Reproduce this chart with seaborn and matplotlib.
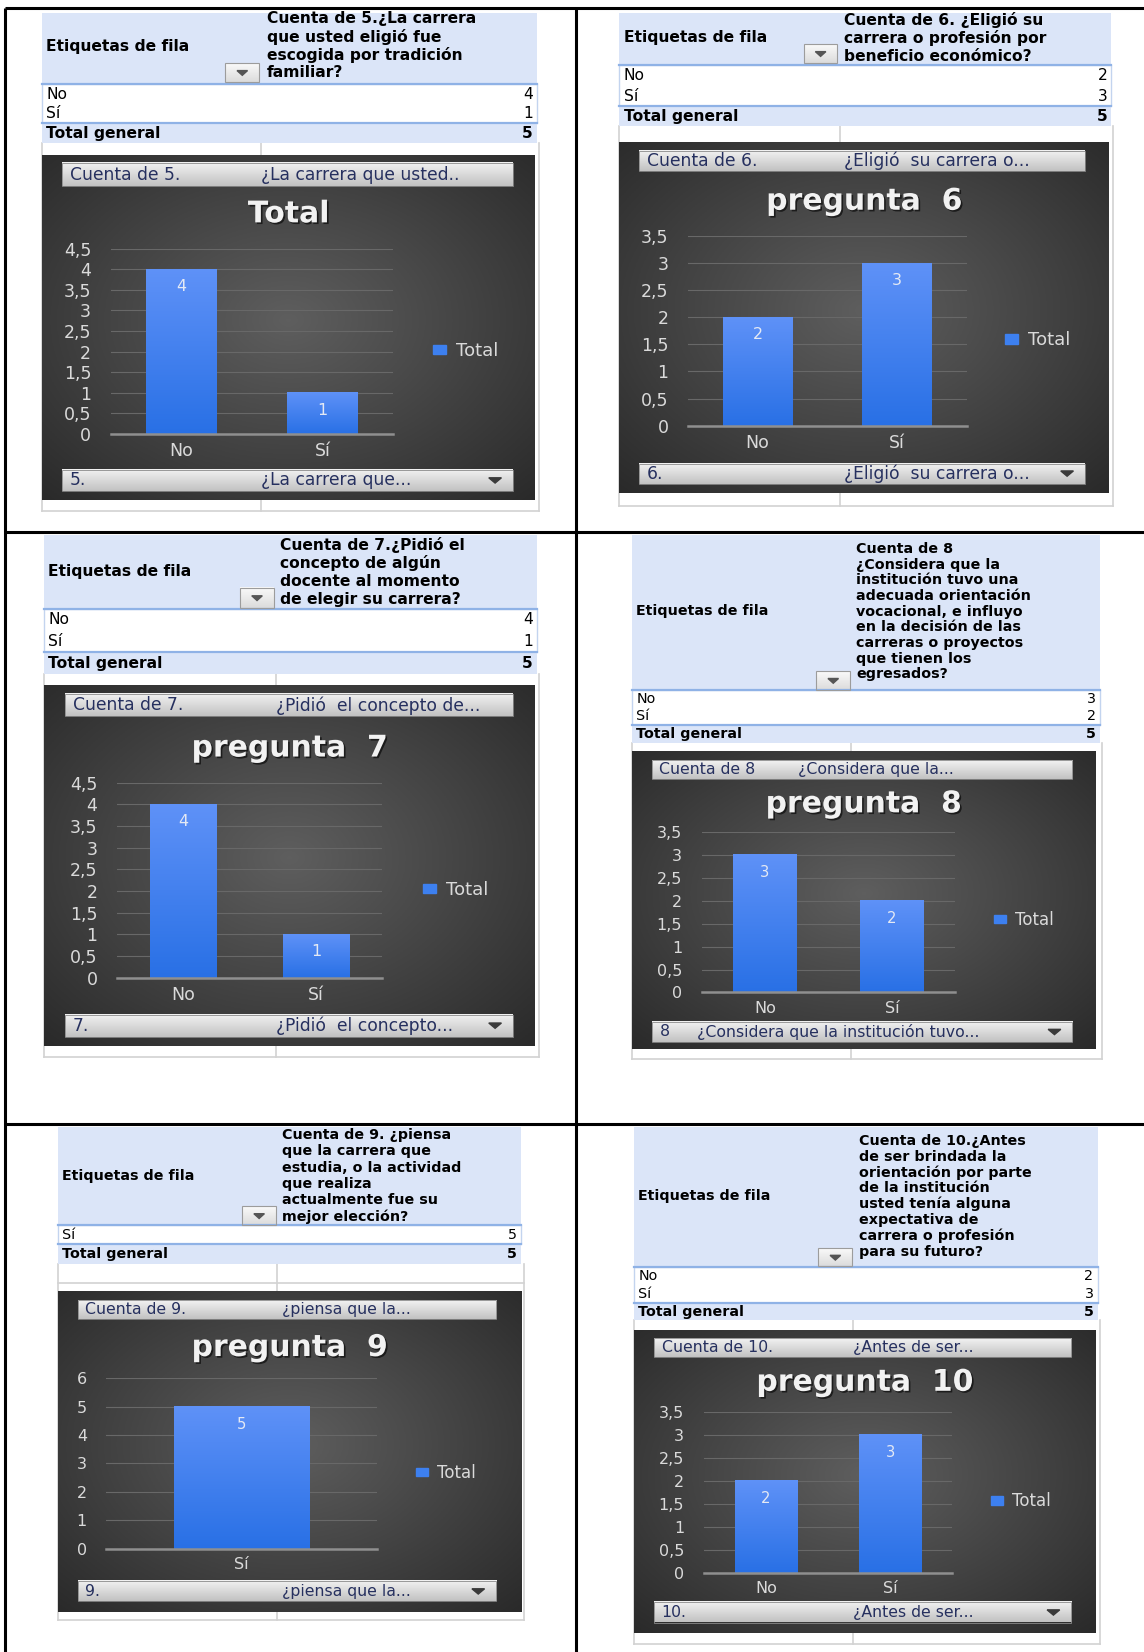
#!/usr/bin/env python3
"""
Pivot-table bar charts (preguntas 5 a 10) laid out as a 2x3 page grid.
"""

import numpy as np
import pandas as pd
import matplotlib
matplotlib.use("Agg")
import matplotlib.pyplot as plt
import matplotlib.patches as mpatches
import matplotlib.patheffects as pe
from matplotlib.ticker import FuncFormatter
import seaborn as sns

QUESTION_IDS = ["5", "6", "7", "8", "9", "10"]

HEADER_LINES = [
    ["Cuenta de 5.¿La carrera", "que usted eligió fue", "escogida por tradición", "familiar?"],
    ["Cuenta de 6. ¿Eligió su", "carrera o profesión por", "beneficio económico?"],
    ["Cuenta de 7.¿Pidió el", "concepto de algún", "docente al momento", "de elegir su carrera?"],
    ["Cuenta de 8", "¿Considera que la", "institución tuvo una", "adecuada orientación",
     "vocacional, e influyo", "en la decisión de las", "carreras o proyectos",
     "que tienen los", "egresados?"],
    ["Cuenta de 9. ¿piensa", "que la carrera que", "estudia, o la actividad",
     "que realiza", "actualmente fue su", "mejor elección?"],
    ["Cuenta de 10.¿Antes", "de ser brindada la", "orientación por parte",
     "de la institución", "usted tenía alguna", "expectativa de",
     "carrera o profesión", "para su futuro?"],
]

CATEGORIES = [["No", "Sí"], ["No", "Sí"], ["No", "Sí"], ["No", "Sí"], ["Sí"], ["No", "Sí"]]
COUNTS = [[4, 1], [2, 3], [4, 1], [3, 2], [5], [2, 3]]

CHART_TITLES = ["Total", "pregunta  6", "pregunta  7", "pregunta  8", "pregunta  9", "pregunta  10"]
Y_MAX = [4.5, 3.5, 4.5, 3.5, 6, 3.5]
Y_STEP = [0.5, 0.5, 0.5, 0.5, 1, 0.5]

TOP_BUTTONS = [
    ("Cuenta de 5.", "¿La carrera que usted.."),
    ("Cuenta de 6.", "¿Eligió  su carrera o..."),
    ("Cuenta de 7.", "¿Pidió  el concepto de..."),
    ("Cuenta de 8", "¿Considera que la..."),
    ("Cuenta de 9.", "¿piensa que la..."),
    ("Cuenta de 10.", "¿Antes de ser..."),
]
BOTTOM_BUTTONS = [
    ("5.", "¿La carrera que..."),
    ("6.", "¿Eligió  su carrera o..."),
    ("7.", "¿Pidió  el concepto..."),
    ("8", "¿Considera que la institución tuvo..."),
    ("9.", "¿piensa que la..."),
    ("10.", "¿Antes de ser..."),
]

# ---- page layout (page pixel units, origin top-left) ----
W, H = 1086, 1568

LAYOUT = [
    dict(px=(40, 510), htop=12, hbot=80, rows_bot=117, tot_bot=136, grid_bot=485, gmid=248,
         hx=253, hy0=18, hdy=17, etiq_y=44, drop=(214, 60, 246, 78), extra_rows=[],
         chart=(40, 147, 508, 475), tbtn=(59, 155, 487, 177), bbtn=(59, 446, 487, 466),
         t2x=248, b2x=248, title_y=203, plot=(105, 236, 373, 412), legend=(411, 333), fs=1.0),
    dict(px=(588, 1055), htop=12, hbot=62, rows_bot=101, tot_bot=120, grid_bot=480, gmid=797,
         hx=801, hy0=19, hdy=17.5, etiq_y=36, drop=(763, 42, 795, 60), extra_rows=[],
         chart=(588, 135, 1053, 468), tbtn=(607, 143, 1030, 162), bbtn=(607, 440, 1030, 459),
         t2x=801, b2x=801, title_y=191, plot=(653, 224, 918, 404), legend=(954, 323), fs=1.0),
    dict(px=(42, 510), htop=508, hbot=578, rows_bot=619, tot_bot=640, grid_bot=1003, gmid=262,
         hx=266, hy0=517, hdy=17.3, etiq_y=542, drop=(228, 558, 260, 577), extra_rows=[],
         chart=(42, 650, 508, 993), tbtn=(62, 659, 487, 680), bbtn=(62, 963, 487, 984),
         t2x=262, b2x=262, title_y=710, plot=(111, 743, 363, 928), legend=(402, 845), fs=1.0),
    dict(px=(600, 1044), htop=508, hbot=655, rows_bot=688, tot_bot=705, grid_bot=1005, gmid=808,
         hx=813, hy0=521, hdy=14.9, etiq_y=580, drop=(775, 637, 807, 655), extra_rows=[],
         chart=(600, 713, 1040, 996), tbtn=(619, 721, 1018, 739), bbtn=(619, 970, 1018, 989),
         t2x=758, b2x=662, title_y=763, plot=(666, 790, 907, 942), legend=(944, 873), fs=0.92),
    dict(px=(55, 495), htop=1070, hbot=1163, rows_bot=1181, tot_bot=1200, grid_bot=1538, gmid=263,
         hx=268, hy0=1077, hdy=15.6, etiq_y=1116, drop=(230, 1145, 262, 1163), extra_rows=[1218],
         chart=(55, 1225, 495, 1530), tbtn=(74, 1234, 471, 1252), bbtn=(74, 1501, 471, 1520),
         t2x=268, b2x=268, title_y=1279, plot=(101, 1308, 358, 1470), legend=(395, 1398), fs=0.92),
    dict(px=(602, 1042), htop=1070, hbot=1203, rows_bot=1237, tot_bot=1253, grid_bot=1560, gmid=810,
         hx=815, hy0=1083, hdy=15, etiq_y=1135, drop=(777, 1185, 809, 1202), extra_rows=[],
         chart=(602, 1262, 1040, 1550), tbtn=(621, 1270, 1017, 1288), bbtn=(621, 1521, 1017, 1540),
         t2x=810, b2x=810, title_y=1312, plot=(668, 1340, 904, 1493), legend=(941, 1425), fs=0.92),
]

HEADER_BLUE = "#dbe5f8"
LINE_BLUE = "#8fb2e6"
GRID_GRAY = "#d2d2d2"
BAR_COLOR = "#3d80f0"
BAR_TOP = np.array([0.37, 0.57, 0.97])
BAR_BOTTOM = np.array([0.16, 0.44, 0.90])
LIGHT_TEXT = "#dadada"
BUTTON_TEXT = "#26305f"


def frac(x0, y0, x1, y1):
    return [x0 / W, 1 - y1 / H, (x1 - x0) / W, (y1 - y0) / H]


def vertical_gradient(top, bottom, n=64):
    t = np.linspace(0, 1, n)[:, None, None]
    return np.asarray(top)[None, None, :] * (1 - t) + np.asarray(bottom)[None, None, :] * t


def radial_background(n=200):
    yy, xx = np.mgrid[0:1:n * 1j, 0:1:n * 1j]
    r = np.sqrt(((xx - 0.5) / 0.7) ** 2 + ((yy - 0.48) / 0.7) ** 2)
    v = np.clip(0.37 - 0.20 * r, 0.15, 0.4)
    return np.dstack([v, v, v])


def draw_frame(base):
    kw = dict(color="black", lw=2.2, solid_capstyle="butt")
    base.plot([5, W], [8, 8], **kw)
    base.plot([5, W], [505, 505], **kw)
    base.plot([5, W], [1067, 1067], **kw)
    base.plot([5, 5], [8, H], **kw)
    base.plot([547, 547], [8, H], **kw)


def draw_dropdown(ax, box, z=3):
    x0, y0, x1, y1 = box
    ax.imshow(vertical_gradient((0.98, 0.98, 0.98), (0.86, 0.86, 0.86)),
              extent=(x0, x1, y1, y0), aspect="auto", zorder=z)
    ax.add_patch(mpatches.Rectangle((x0, y0), x1 - x0, y1 - y0, fill=False,
                                    ec="#9c9c9c", lw=0.8, zorder=z + 0.1))
    xm, ym = (x0 + x1) / 2, (y0 + y1) / 2
    ax.add_patch(mpatches.Polygon([[xm - 5, ym - 2], [xm + 5, ym - 2], [xm, ym + 2.5]],
                                  closed=True, color="#555555", zorder=z + 0.2))


def draw_pivot(base, L, lines, cats, vals):
    x0, x1 = L["px"]
    fs = 11.2 * L["fs"]
    # header block
    base.add_patch(mpatches.Rectangle((x0, L["htop"]), x1 - x0, L["hbot"] - L["htop"],
                                      fc=HEADER_BLUE, ec="none", zorder=1))
    base.text(x0 + 4, L["etiq_y"], "Etiquetas de fila", fontsize=fs, weight="bold",
              va="center", ha="left", zorder=4)
    for k, line in enumerate(lines):
        base.text(L["hx"], L["hy0"] + k * L["hdy"], line, fontsize=fs, weight="bold",
                  va="center", ha="left", zorder=4)
    draw_dropdown(base, L["drop"])

    # data rows
    rtop, rbot = L["hbot"], L["rows_bot"]
    base.add_patch(mpatches.Rectangle((x0, rtop), x1 - x0, rbot - rtop,
                                      fc="white", ec="#c3d4ef", lw=1.0, zorder=1))
    rh = (rbot - rtop) / len(cats)
    for k, (cat, val) in enumerate(zip(cats, vals)):
        yc = rtop + (k + 0.5) * rh
        base.text(x0 + 4, yc, cat, fontsize=fs, va="center", ha="left", zorder=4)
        base.text(x1 - 4, yc, str(val), fontsize=fs, va="center", ha="right", zorder=4)

    # grand total
    tbot = L["tot_bot"]
    base.add_patch(mpatches.Rectangle((x0, rbot), x1 - x0, tbot - rbot,
                                      fc=HEADER_BLUE, ec="none", zorder=1))
    yc = (rbot + tbot) / 2
    base.text(x0 + 4, yc, "Total general", fontsize=fs, weight="bold",
              va="center", ha="left", zorder=4)
    base.text(x1 - 4, yc, str(sum(vals)), fontsize=fs, weight="bold",
              va="center", ha="right", zorder=4)
    base.plot([x0, x1], [rtop, rtop], color=LINE_BLUE, lw=1.6, zorder=3)
    base.plot([x0, x1], [rbot, rbot], color=LINE_BLUE, lw=1.6, zorder=3)

    # spreadsheet cells underneath
    gb = L["grid_bot"]
    for gx in (x0, L["gmid"], x1 + 2):
        base.plot([gx, gx], [tbot, gb], color=GRID_GRAY, lw=1.2, zorder=0.5)
    for gy in L["extra_rows"] + [gb]:
        base.plot([x0, x1 + 2], [gy, gy], color=GRID_GRAY, lw=1.2, zorder=0.5)


def draw_button(bg, box, left, right, right_x, arrow, fs):
    x0, y0, x1, y1 = box
    bg.imshow(vertical_gradient((0.95, 0.95, 0.95), (0.76, 0.76, 0.76)),
              extent=(x0, x1, y1, y0), aspect="auto", zorder=2)
    bg.add_patch(mpatches.Rectangle((x0, y0), x1 - x0, y1 - y0, fill=False,
                                    ec="#8a8a8a", lw=0.6, zorder=3))
    ym = (y0 + y1) / 2
    bg.text(x0 + 7, ym, left, fontsize=fs, color=BUTTON_TEXT, va="center", ha="left", zorder=4)
    bg.text(right_x, ym, right, fontsize=fs, color=BUTTON_TEXT, va="center", ha="left", zorder=4)
    if arrow:
        xm = x1 - 17
        bg.add_patch(mpatches.Polygon([[xm - 6, ym - 2.5], [xm + 6, ym - 2.5], [xm, ym + 2.5]],
                                      closed=True, color="#3a3a3a", zorder=4))


def draw_chart(fig, L, i):
    cx0, cy0, cx1, cy1 = L["chart"]
    s = L["fs"]
    bg = fig.add_axes(frac(cx0, cy0, cx1, cy1))
    bg.imshow(radial_background(), extent=(cx0, cx1, cy1, cy0), aspect="auto", zorder=0)
    draw_button(bg, L["tbtn"], TOP_BUTTONS[i][0], TOP_BUTTONS[i][1], L["t2x"], False, 12.3 * s)
    draw_button(bg, L["bbtn"], BOTTOM_BUTTONS[i][0], BOTTOM_BUTTONS[i][1], L["b2x"], True, 12.3 * s)
    bg.text((cx0 + cx1) / 2, L["title_y"], CHART_TITLES[i], fontsize=21.5, weight="bold",
            color="#f2f2f2", ha="center", va="center", zorder=4,
            path_effects=[pe.withSimplePatchShadow(offset=(1.2, -1.2), shadow_rgbFace="black", alpha=0.6)])
    bg.set_xlim(cx0, cx1)
    bg.set_ylim(cy1, cy0)
    bg.axis("off")

    # the bar plot itself
    px0, py0, px1, py1 = L["plot"]
    ax = fig.add_axes(frac(px0, py0, px1, py1))
    ax.patch.set_alpha(0)
    df = pd.DataFrame({"respuesta": CATEGORIES[i], "cuenta": COUNTS[i]})
    sns.barplot(data=df, x="respuesta", y="cuenta", color=BAR_COLOR, width=0.5,
                saturation=1, ax=ax, zorder=2)

    grad = vertical_gradient(BAR_TOP, BAR_BOTTOM)
    for bar in ax.patches:
        bx, bw, bh = bar.get_x(), bar.get_width(), bar.get_height()
        ax.imshow(grad, extent=(bx, bx + bw, 0, bh), aspect="auto", origin="upper", zorder=2.5)

    ax.bar_label(ax.containers[0], labels=[str(v) for v in COUNTS[i]], padding=-18,
                 color="#e4e9f4", fontsize=11.5 * s, zorder=4)

    n = len(CATEGORIES[i])
    ax.set_xlim(-0.5, n - 0.5)
    ax.set_ylim(0, Y_MAX[i])
    ax.set_yticks(np.arange(0, Y_MAX[i] + Y_STEP[i] / 2, Y_STEP[i]))
    ax.yaxis.set_major_formatter(FuncFormatter(lambda v, _: f"{v:g}".replace(".", ",")))
    ax.grid(axis="y", color="#686868", lw=0.8)
    ax.grid(axis="x", visible=False)
    ax.set_axisbelow(True)
    for sp in ax.spines.values():
        sp.set_visible(False)
    ax.axhline(0, color="#8f8f8f", lw=1.8, zorder=3, clip_on=False)
    ax.tick_params(length=0, colors=LIGHT_TEXT, labelsize=12.5 * s)
    ax.tick_params(axis="y", pad=14)
    ax.tick_params(axis="x", pad=6)
    ax.set_xlabel("")
    ax.set_ylabel("")

    lx, ly = L["legend"]
    handle = mpatches.Patch(color=BAR_COLOR)
    leg = ax.legend([handle], ["Total"], loc="center left", bbox_to_anchor=(lx, ly),
                    bbox_transform=bg.transData, frameon=False, fontsize=13 * s,
                    handlelength=0.7, handleheight=0.42, handletextpad=0.55,
                    borderpad=0, borderaxespad=0)
    for t in leg.get_texts():
        t.set_color(LIGHT_TEXT)


def main():
    plt.rcParams["font.family"] = ["DejaVu Sans"]
    fig = plt.figure(figsize=(11.44, 16.52), dpi=100)
    fig.patch.set_facecolor("white")

    base = fig.add_axes([0, 0, 1, 1])
    base.set_xlim(0, W)
    base.set_ylim(H, 0)
    base.axis("off")

    draw_frame(base)
    for i, L in enumerate(LAYOUT):
        draw_pivot(base, L, HEADER_LINES[i], CATEGORIES[i], COUNTS[i])
    base.set_xlim(0, W)
    base.set_ylim(H, 0)

    for i, L in enumerate(LAYOUT):
        draw_chart(fig, L, i)

    fig.savefig("out.png", dpi=100)
    plt.close(fig)


if __name__ == "__main__":
    main()
